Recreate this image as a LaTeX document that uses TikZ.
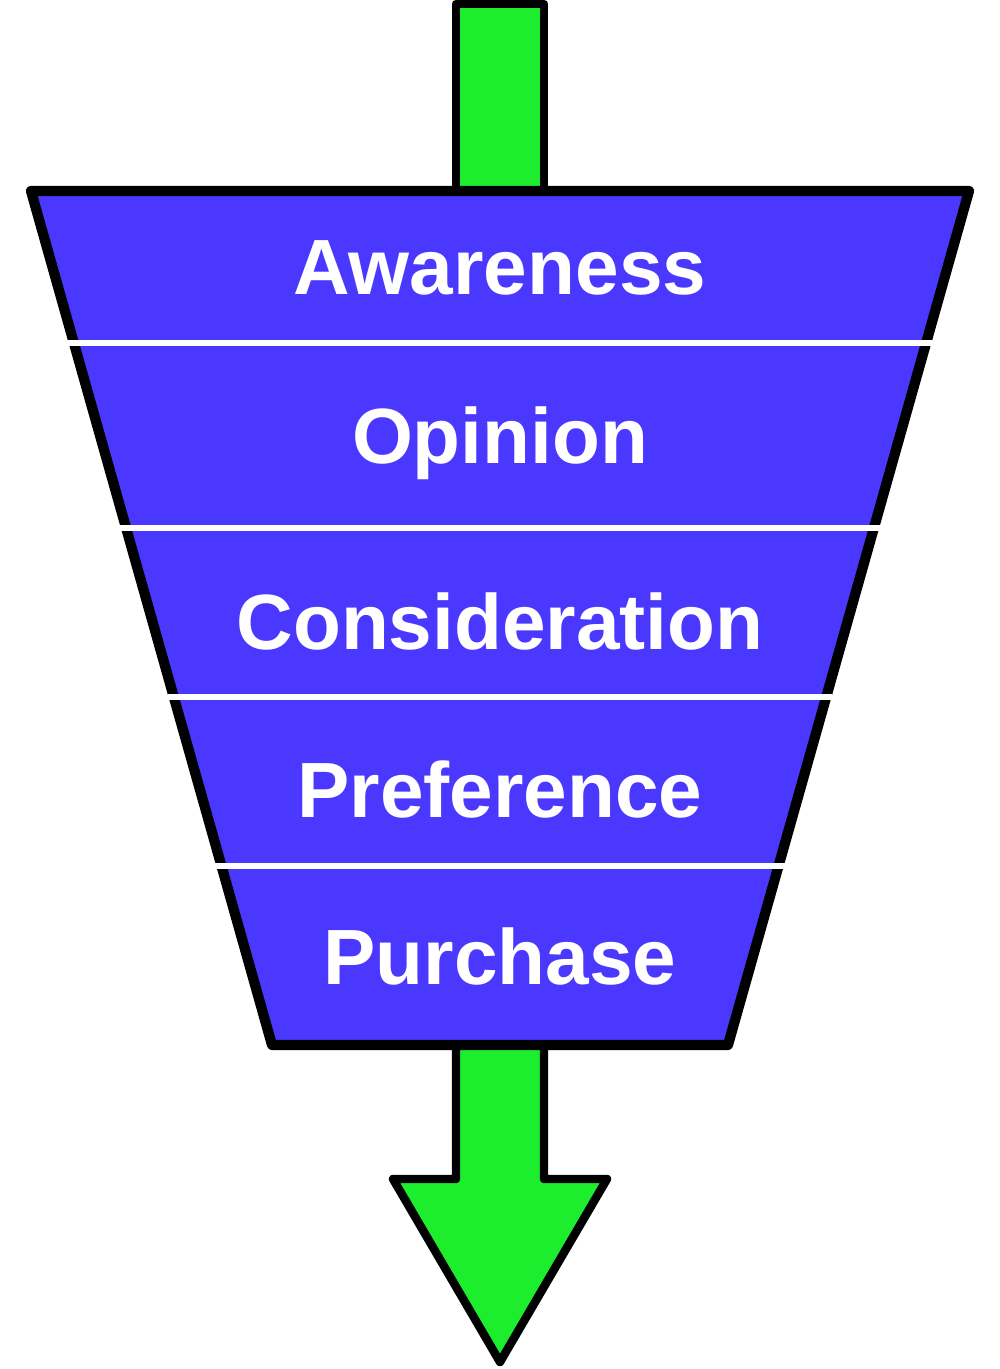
\documentclass[tikz,border=0pt]{standalone}
\usepackage{fontspec}
\setmainfont{Liberation Sans}
\usepackage{tikz}
\usetikzlibrary{calc}
\definecolor{funnelblue}{RGB}{75,56,255}
\definecolor{flowgreen}{RGB}{28,238,46}

\begin{document}
\begin{tikzpicture}[x=0.02cm,y=-0.02cm,line join=round,
		stage/.style={text=white,font=\fontsize{44.6}{44.6}\selectfont\bfseries,anchor=base},
		flow/.style={draw=black,fill=flowgreen,line width=4.8pt},
		sep/.style={draw=white,line width=3.6pt}]
		\useasboundingbox (0,0) rectangle (1000,1369);
		\coordinate (TL) at (31,191);
		\coordinate (TR) at (969,191);
		\coordinate (BL) at (272,1045);
		\coordinate (BR) at (728,1045);
		%
		\draw[flow] (456,4) rectangle (544,191);
		\draw[flow] (456,1045) -- (456,1179) -- (393,1179) -- (500,1362) -- (607,1179) -- (544,1179) -- (544,1045);
		%
		\draw[fill=funnelblue,line width=5.8pt] (TL) -- (TR) -- (BR) -- (BL) -- cycle;
		\foreach \y in {343,528,697,866}{
			\pgfmathsetmacro{\xl}{25+(\y-191)*0.2822}
			\draw[sep] (\xl,\y) -- (1000-\xl,\y);
		}
		%
		\node[stage] (awareness) at (500,294) {Awareness};
		\node[stage] (opinion) at (500,463) {Opinion};
		\node[stage] (consideration) at (500,649) {Consideration};
		\node[stage] (preference) at (500,817) {Preference};
		\node[stage] (purchase) at (500,984) {Purchase};
	\end{tikzpicture}
\end{document}
